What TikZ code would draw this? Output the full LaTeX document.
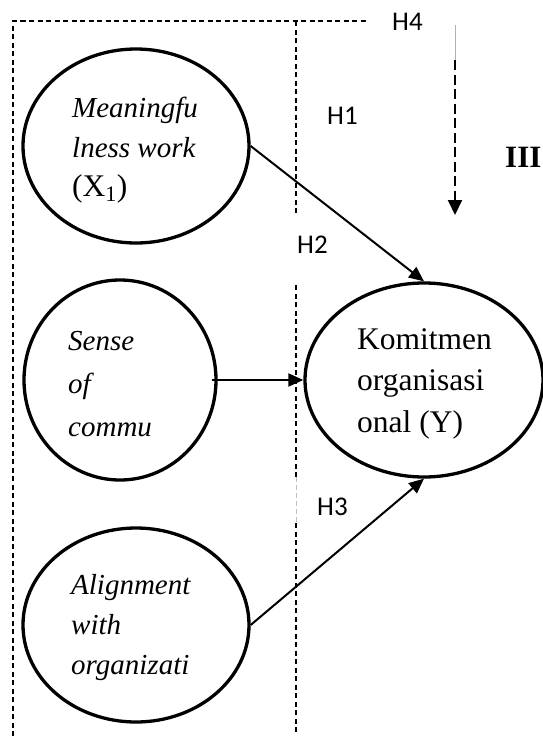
\documentclass[tikz,border=0pt]{standalone}
\usepackage{fontspec}
\setmainfont{Liberation Serif}
\newfontfamily\hfont{Carlito}
\usetikzlibrary{shapes.geometric,arrows.meta}
\begin{document}
\begin{tikzpicture}[x=1pt,y=-1pt,
  latent/.style={draw,line width=3.3pt,ellipse,inner sep=0pt},
  lbl/.style={anchor=base west,inner sep=0pt,font=\fontsize{31.5}{36}\selectfont},
  ilbl/.style={anchor=base west,inner sep=0pt,font=\fontsize{29}{36}\selectfont\itshape},
  hyp/.style={anchor=base west,inner sep=0pt,font=\hfont\fontsize{27}{30}\selectfont},
  frame/.style={line width=1.5pt,dash pattern=on 5pt off 3.5pt},
  pathar/.style={line width=2pt,-{Triangle[length=15pt,width=13pt]}},
]
\useasboundingbox (0,0) rectangle (543,736);

% latent variables
\node[latent,minimum width=226pt,minimum height=194pt] (x1) at (136,146) {};
\node[latent,minimum width=192pt,minimum height=200pt] (x2) at (120,380) {};
\node[latent,minimum width=226pt,minimum height=194pt] (x3) at (136,625) {};
\node[latent,minimum width=238pt,minimum height=194pt] (y) at (424,380) {};

% frame
\coordinate (tl) at (13,21);
\coordinate (tr) at (368,21);
\coordinate (bl) at (13,736);
\coordinate (mt) at (296,21);
\coordinate (mg1) at (296,215);
\coordinate (mg2) at (296,285);
\coordinate (mgA) at (296,477);
\coordinate (mgB) at (296,523);
\coordinate (mb) at (296,736);
\draw[frame] (bl) -- (tl) -- (tr);
\draw[frame] (mt) -- (mg1);
\draw[frame] (mg2) -- (mgA);
\draw[gray!50,line width=0.8pt,dash pattern=on 5pt off 3pt] (mgA) -- (mgB);
\draw[frame] (mgB) -- (mb);

% H4 arrow
\coordinate (h4a) at (455,25);
\coordinate (h4b) at (455,60);
\coordinate (h4c) at (455,215);
\draw[gray!60,line width=0.6pt] (h4a) -- (h4b);
\draw[line width=2pt,dash pattern=on 10pt off 4.5pt,-{Triangle[length=15pt,width=14pt]}] (h4b) -- (h4c);

% paths
\draw[pathar] (x1.east) -- (y.north);
\draw[pathar] ([xshift=-6pt]x2.east) -- (y.west);
\draw[pathar] (x3.east) -- (y.south);

% texts
\node[ilbl] (t1a) at (72,117) {Meaningfu};
\node[ilbl] (t1b) at (72,157) {lness work};
\node[lbl] (t1c) at (72,196) {(X\textsubscript{1})};
\node[ilbl] (t2a) at (68,350) {Sense};
\node[ilbl] (t2b) at (68,393) {of};
\node[ilbl] (t2c) at (68,436) {commu};
\node[lbl] (tya) at (357,349) {Komitmen};
\node[lbl] (tyb) at (357,390) {organisasi};
\node[lbl] (tyc) at (357,432) {onal (Y)};
\node[ilbl] (t3a) at (71,594) {Alignment};
\node[ilbl] (t3b) at (71,634) {with};
\node[ilbl] (t3c) at (71,674) {organizati};

\node[hyp] (h1) at (327,124) {H1};
\node[hyp] (h2) at (297,253) {H2};
\node[hyp] (h3) at (317,515) {H3};
\node[hyp] (h4) at (392,30) {H4};
\node[anchor=base west,inner sep=0pt,font=\fontsize{31}{36}\selectfont\bfseries] (iii) at (505,167) {III};
\end{tikzpicture}
\end{document}
